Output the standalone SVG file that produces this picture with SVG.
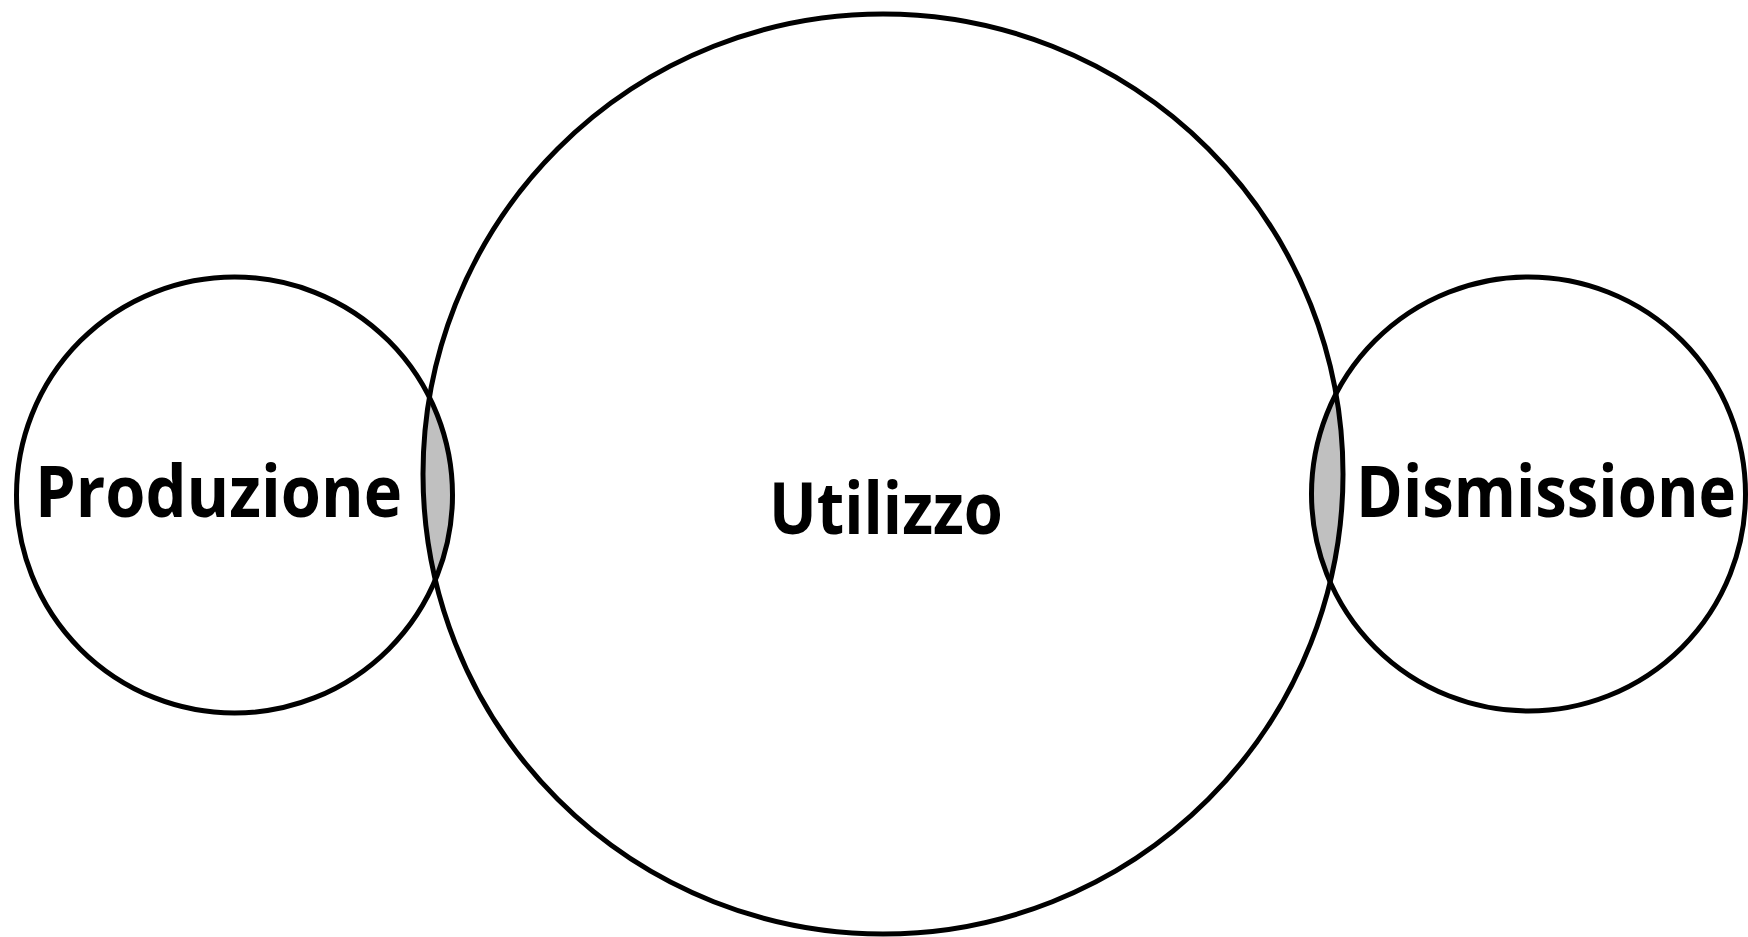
<svg xmlns="http://www.w3.org/2000/svg" width="1748" height="937" viewBox="0 0 1748 937">
  <style>
    .ring { fill: none; stroke: #000; stroke-width: 5; }
    .lens { fill: #c0c0c0; }
    .label { font-family: "Open Sans", "Liberation Sans", sans-serif; font-weight: bold; font-size: 72px; fill: #000; }
  </style>
  <defs>
    <clipPath id="clipLeft"><circle cx="234.5" cy="495" r="218"/></clipPath>
    <clipPath id="clipRight"><circle cx="1528.5" cy="494" r="217"/></clipPath>
  </defs>
  <rect width="1748" height="937" fill="#fff"/>
  <g id="overlaps">
    <circle class="lens" cx="883" cy="474" r="460" clip-path="url(#clipLeft)"/>
    <circle class="lens" cx="883" cy="474" r="460" clip-path="url(#clipRight)"/>
  </g>
  <g id="produzione">
    <circle class="ring" cx="234.5" cy="495" r="218"/>
    <text class="label" x="35" y="517" textLength="367" lengthAdjust="spacingAndGlyphs">Produzione</text>
  </g>
  <g id="utilizzo">
    <circle class="ring" cx="883" cy="474" r="460"/>
    <text class="label" x="769" y="534" textLength="234" lengthAdjust="spacingAndGlyphs">Utilizzo</text>
  </g>
  <g id="dismissione">
    <circle class="ring" cx="1528.5" cy="494" r="217"/>
    <text class="label" x="1356" y="517" textLength="380" lengthAdjust="spacingAndGlyphs">Dismissione</text>
  </g>
  <g id="connectors"/>
</svg>
